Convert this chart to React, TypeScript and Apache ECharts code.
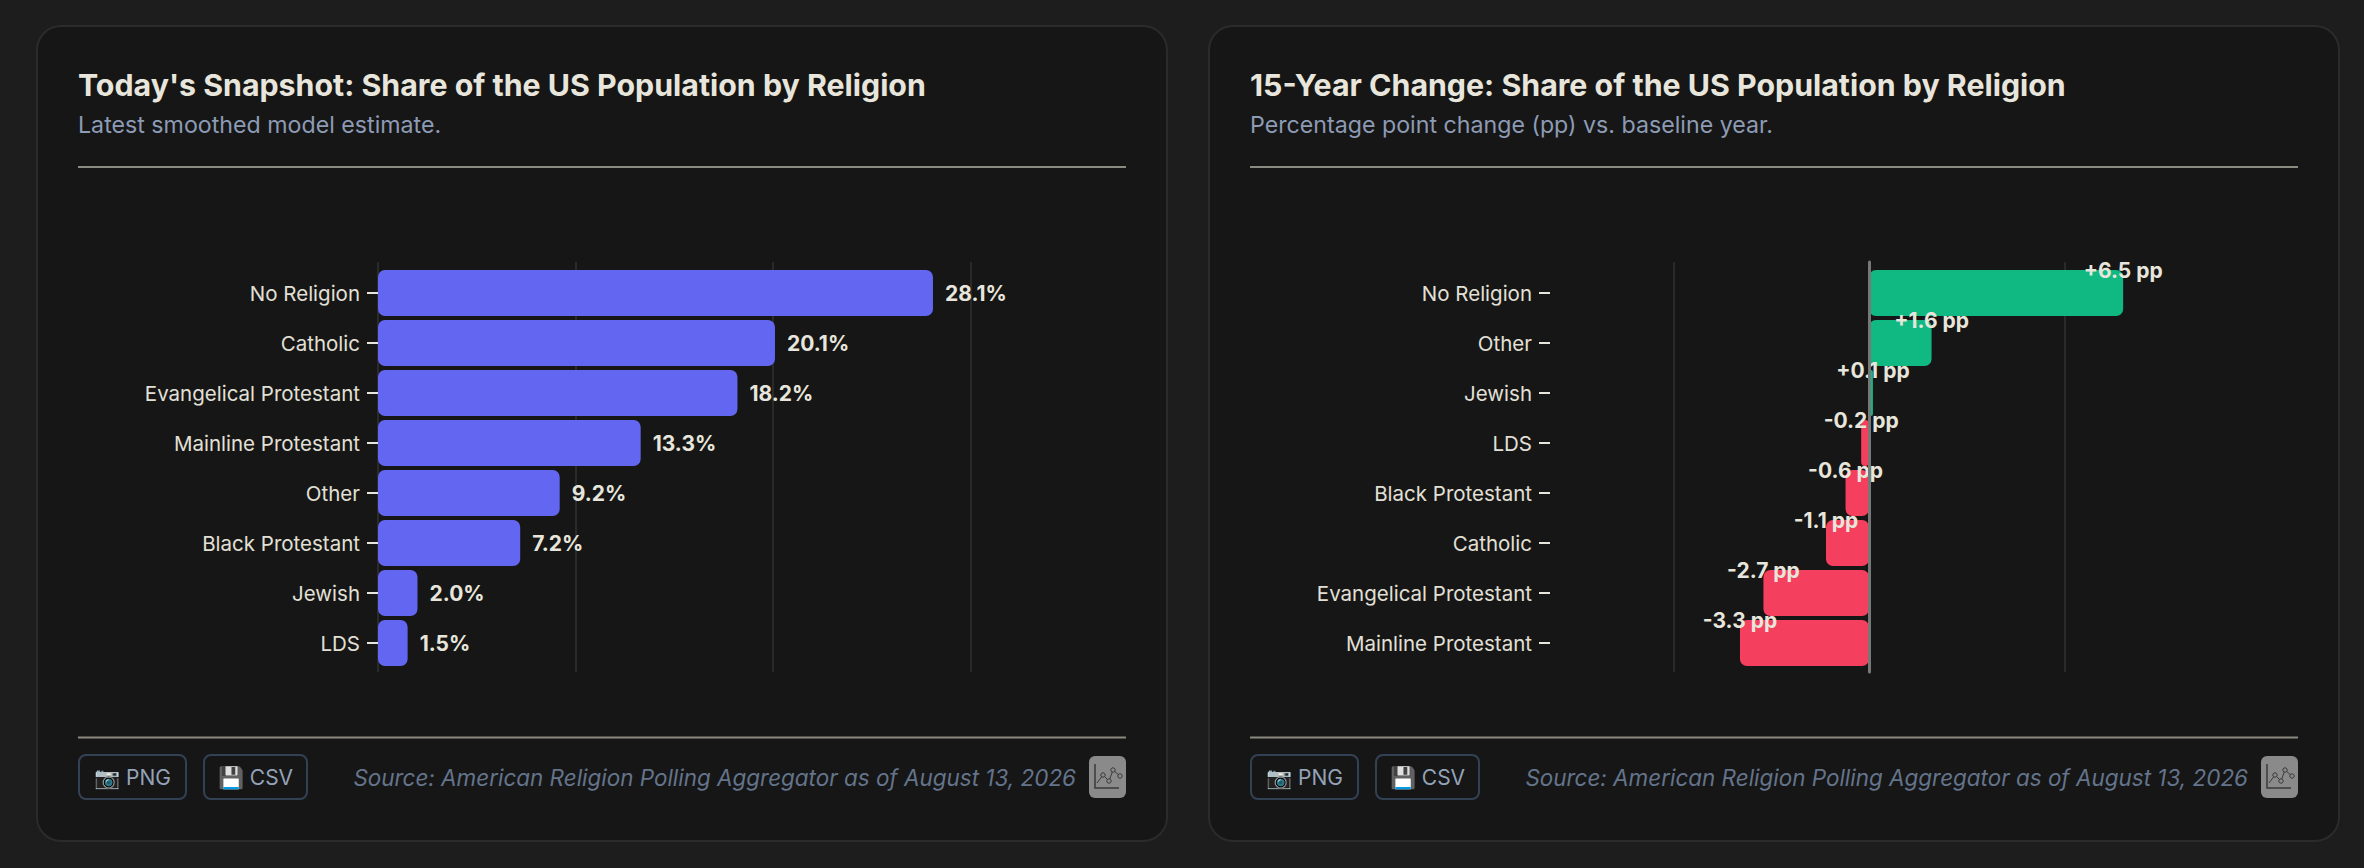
import React, { useEffect, useRef } from "react";
import * as echarts from "echarts";

const FONT = "Inter, 'Noto Sans', sans-serif";

const snapshotCategories = ["No Religion", "Catholic", "Evangelical Protestant", "Mainline Protestant", "Other", "Black Protestant", "Jewish", "LDS"];
const snapshotValues = [28.1, 20.1, 18.2, 13.3, 9.2, 7.2, 2.0, 1.5];
const changeCategories = ["No Religion", "Other", "Jewish", "LDS", "Black Protestant", "Catholic", "Evangelical Protestant", "Mainline Protestant"];
const changeValues = [6.5, 1.6, 0.1, -0.2, -0.6, -1.1, -2.7, -3.3];

const titles = ["Today's Snapshot: Share of the US Population by Religion", "15-Year Change: Share of the US Population by Religion"];
const subtitles = ["Latest smoothed model estimate.", "Percentage point change (pp) vs. baseline year."];
const sourceText = "Source: American Religion Polling Aggregator as of August 13, 2026";

const PAGE_BG = "#1d1d1d";
const CARD_BG = "#161616";
const CARD_BORDER = "#2b2b2b";
const TEXT = "#e8e6dc";
const MUTED = "#8d9bb5";
const SOURCE = "#64748b";
const DIVIDER = "#8b8a80";
const GRID = "#2a2a2a";
const BTN_BORDER = "#334155";
const BTN_TEXT = "#94a3b8";

const PANEL_OFFSET = 1172;

function panelGraphics(dx: number) {
  const z = -10;
  const btn = (x: number, w: number, label: string) => [
    { type: "rect", z: 5, shape: { x: x + dx, y: 755, width: w, height: 44, r: 7 }, style: { fill: "transparent", stroke: BTN_BORDER, lineWidth: 2 } },
    { type: "text", z: 6, x: x + dx + w / 2, y: 777, style: { text: label, fill: BTN_TEXT, font: `21px ${FONT}`, align: "center", verticalAlign: "middle" } },
  ];
  const ix = 1089 + dx;
  const iy = 756;
  const dark = "#3a3a3a";
  return [
    { type: "rect", z, shape: { x: 37 + dx, y: 26, width: 1130, height: 815, r: 24 }, style: { fill: CARD_BG, stroke: CARD_BORDER, lineWidth: 2 } },
    { type: "rect", z: -5, shape: { x: 78 + dx, y: 166, width: 1048, height: 2 }, style: { fill: DIVIDER } },
    { type: "rect", z: -5, shape: { x: 78 + dx, y: 736.5, width: 1048, height: 2 }, style: { fill: DIVIDER } },
    ...btn(79, 107, "📷 PNG"),
    ...btn(204, 103, "💾 CSV"),
    { type: "text", z: 6, x: 1076 + dx, y: 777, style: { text: sourceText, fill: SOURCE, font: `italic 22.45px ${FONT}`, align: "right", verticalAlign: "middle" } },
    { type: "rect", z: 5, shape: { x: ix, y: iy, width: 37, height: 42, r: 6 }, style: { fill: "#8a8a8a" } },
    { type: "polyline", z: 6, shape: { points: [[ix + 6, iy + 8], [ix + 6, iy + 32], [ix + 30, iy + 32]] }, style: { fill: "none", stroke: dark, lineWidth: 1.5 } },
    { type: "polyline", z: 6, shape: { points: [[ix + 8, iy + 27], [ix + 14, iy + 19], [ix + 20, iy + 25], [ix + 24, iy + 14], [ix + 31, iy + 20]] }, style: { fill: "none", stroke: dark, lineWidth: 1 } },
    ...[[14, 19], [20, 25], [24, 14], [31, 20]].map(([a, b]) => ({ type: "circle", z: 7, shape: { cx: ix + a, cy: iy + b, r: 2.2 }, style: { fill: "#8a8a8a", stroke: dark, lineWidth: 1 } })),
  ];
}

const titleItem = (i: number, x: number) => ({
  text: titles[i],
  subtext: subtitles[i],
  left: x,
  top: 69,
  padding: 0,
  itemGap: 11,
  textStyle: { color: TEXT, fontFamily: FONT, fontSize: 30.33, fontWeight: 700, lineHeight: 32 },
  subtextStyle: { color: MUTED, fontFamily: FONT, fontSize: 23.2, fontWeight: 400, lineHeight: 26 },
});

const catAxisLabel = { color: "#e2e0d6", fontFamily: FONT, fontSize: 20.5, margin: 18 };
const catTick = { show: true, alignWithLabel: true, length: 11, lineStyle: { color: TEXT, width: 2 } };
const hiddenY = { type: "value", min: 0, max: 1, axisLabel: { show: false }, axisTick: { show: false }, splitLine: { show: false } };
const gridSplit = { show: true, lineStyle: { color: GRID, width: 2 } };
const hiddenBits = { axisLabel: { show: false }, axisTick: { show: false }, axisLine: { show: false } };
const dataLabelStyle = { color: TEXT, fontFamily: FONT, fontSize: 21, fontWeight: 700 };

export default function App() {
  const ref = useRef<HTMLDivElement>(null);
  useEffect(() => {
    const chart = echarts.init(ref.current!, undefined, { renderer: "svg" });
    chart.setOption({
      animation: false,
      backgroundColor: PAGE_BG,
      title: [titleItem(0, 78), titleItem(1, 78 + PANEL_OFFSET)],
      graphic: { elements: [...panelGraphics(0), ...panelGraphics(PANEL_OFFSET)] },
      grid: [
        { left: 378, top: 268, width: 592.5, height: 400 },
        { left: 378, top: 262, width: 592.5, height: 410 },
        { left: 1673.5, top: 268, width: 586.5, height: 400 },
        { left: 1673.5, top: 262, width: 391, height: 410 },
      ],
      xAxis: [
        { gridIndex: 0, type: "value", min: 0, max: 30, interval: 10, splitLine: { show: false }, ...hiddenBits },
        { gridIndex: 1, type: "value", min: 0, max: 30, interval: 10, splitLine: gridSplit, ...hiddenBits },
        { gridIndex: 2, type: "value", min: -5, max: 10, interval: 5, splitLine: { show: false }, ...hiddenBits },
        { gridIndex: 3, type: "value", min: -5, max: 5, interval: 5, splitLine: gridSplit, ...hiddenBits },
      ],
      yAxis: [
        { gridIndex: 0, type: "category", inverse: true, data: snapshotCategories, axisLine: { show: false }, axisTick: catTick, axisLabel: catAxisLabel },
        { gridIndex: 1, ...hiddenY, axisLine: { show: false } },
        { gridIndex: 2, type: "category", inverse: true, offset: 123.5, data: changeCategories, axisLine: { show: false, onZero: false }, axisTick: catTick, axisLabel: catAxisLabel },
        { gridIndex: 3, ...hiddenY, z: 5, axisLine: { show: true, onZero: true, lineStyle: { color: "#777777", width: 3 } } },
      ],
      series: [
        {
          type: "bar",
          xAxisIndex: 0,
          yAxisIndex: 0,
          data: snapshotValues,
          barWidth: 46,
          itemStyle: { color: "#6366f1", borderRadius: 7 },
          label: { show: true, position: "right", distance: 12, ...dataLabelStyle, formatter: (p: any) => `${p.value.toFixed(1)}%` },
        },
        {
          type: "bar",
          xAxisIndex: 2,
          yAxisIndex: 2,
          barWidth: 46,
          data: changeValues.map((v) => ({
            value: v,
            itemStyle: { color: v >= 0 ? "#10b981" : "#f43f5e", borderRadius: 7 },
            label: {
              show: true,
              position: [v >= 0 ? "100%" : "0%", "0%"],
              align: "center",
              verticalAlign: "middle",
              ...dataLabelStyle,
              formatter: `${v >= 0 ? "+" : ""}${v.toFixed(1)} pp`,
            },
          })),
        },
      ],
    });
    return () => chart.dispose();
  }, []);
  return <div ref={ref} style={{ position: "absolute", left: 0, top: 0, width: 2364, height: 868 }} />;
}
